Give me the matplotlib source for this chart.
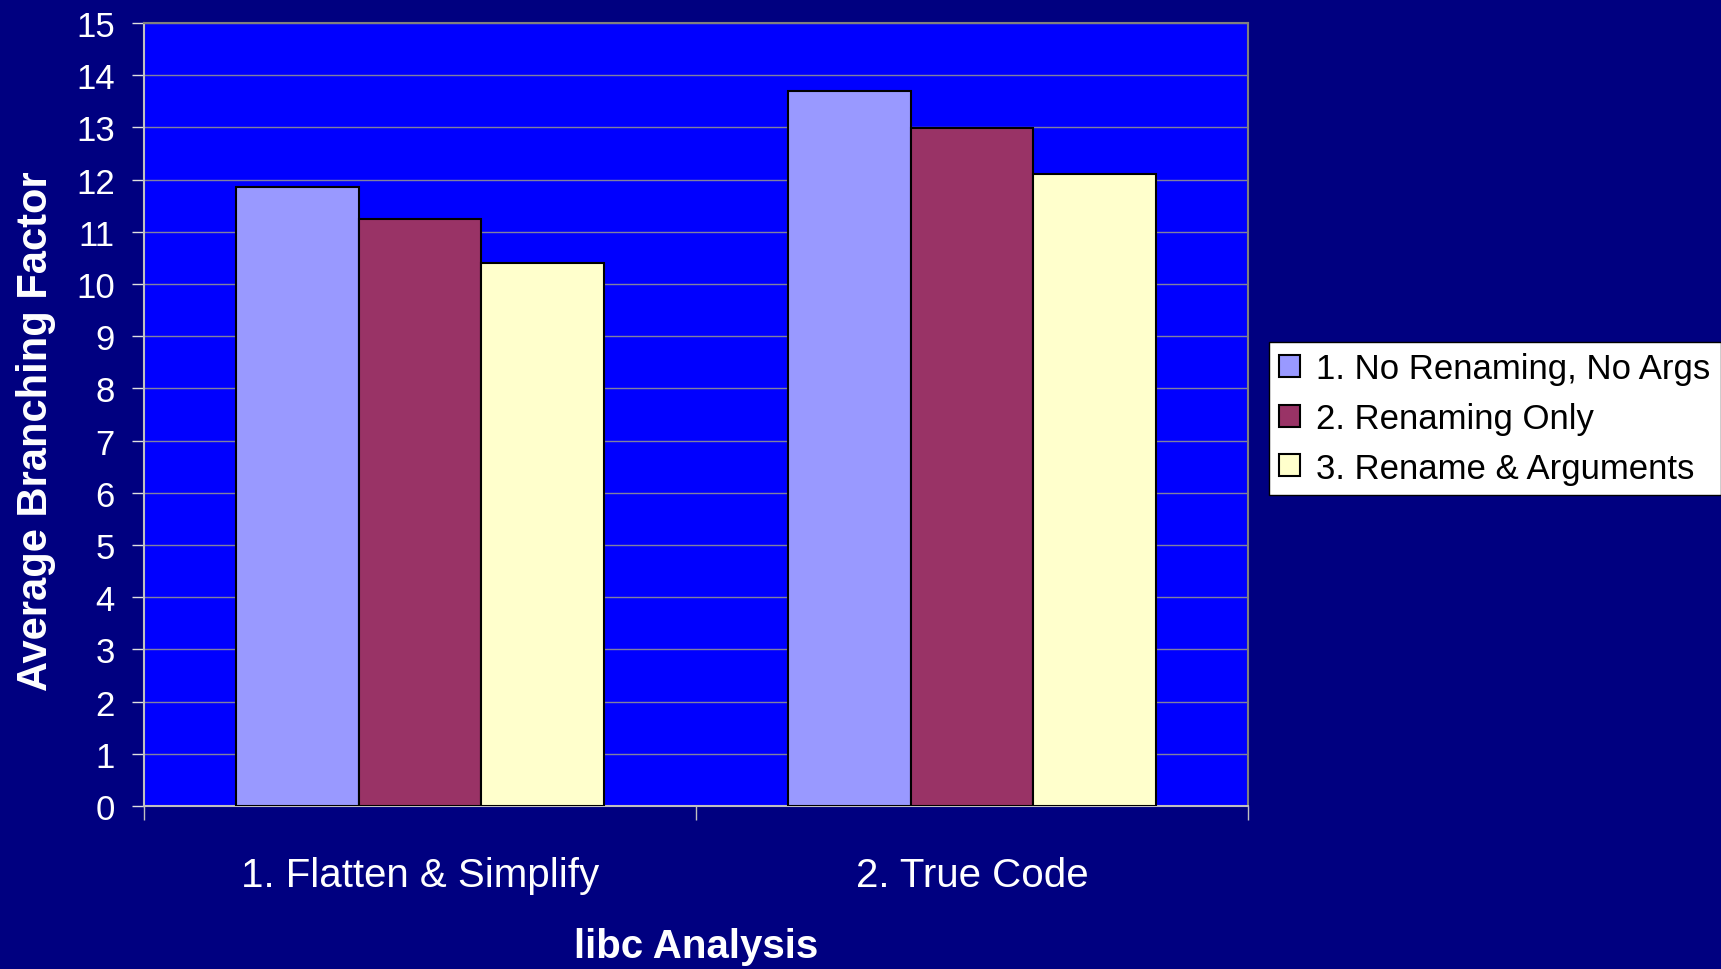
import numpy as np
import matplotlib
matplotlib.use("Agg")
import matplotlib.pyplot as plt

plt.rcParams['font.family'] = ['Liberation Sans', 'DejaVu Sans']

categories = ["1. Flatten & Simplify", "2. True Code"]
series_names = ["1. No Renaming, No Args", "2. Renaming Only", "3. Rename & Arguments"]
no_renaming = [11.85, 13.70]
renaming_only = [11.25, 12.98]
rename_args = [10.40, 12.11]
colors = ["#9999FF", "#993366", "#FFFFCC"]

series = [no_renaming, renaming_only, rename_args]

fig = plt.figure(figsize=(17.21, 9.70), dpi=100)
fig.patch.set_facecolor("#000080")
ax = fig.add_axes([0.0837, 0.168, 0.6415, 0.8073])
ax.set_facecolor("#0000FF")

x = np.arange(len(categories))
w = 1 / 4.5
for i, vals in enumerate(series):
    ax.bar(x + (i - 1) * w, vals, width=w, color=colors[i], edgecolor="black",
           linewidth=1.5, label=series_names[i], zorder=3)

ax.set_xlim(-0.5, len(categories) - 0.5)
ax.set_ylim(0, 15)
ax.set_yticks(range(0, 16))
ax.yaxis.grid(True, color="#8080A0", linewidth=1, zorder=0)
ax.set_axisbelow(True)

# category boundary ticks, labels centred without ticks
ax.set_xticks([-0.5, 0.5, 1.5])
ax.set_xticklabels([])
ax.set_xticks(x, minor=True)
ax.set_xticklabels(categories, minor=True, fontsize=29, color="white")
ax.tick_params(axis="x", which="minor", length=0, pad=36)
ax.tick_params(axis="x", which="major", length=10, color="#C0C0C0", width=1)
ax.tick_params(axis="y", length=9, color="#E0E0E0", width=1, labelsize=25,
               labelcolor="white", pad=12)

for s in ["top", "right"]:
    ax.spines[s].set_color("#808080")
ax.spines["left"].set_color("#C0C0C0")
ax.spines["bottom"].set_color("#C0C0C0")
for s in ax.spines.values():
    s.set_linewidth(1.5)

ax.set_xlabel("libc Analysis", fontsize=29, fontweight="bold", color="white", labelpad=24)
ax.set_ylabel("Average Branching Factor", fontsize=30, fontweight="bold", color="white")
ax.yaxis.set_label_coords(-0.080, 0.48)

leg = fig.legend(loc="upper left", bbox_to_anchor=(0.7374, 0.6465), fontsize=25,
                 frameon=True, fancybox=False, facecolor="white", edgecolor="black",
                 framealpha=1, handlelength=0.6, handleheight=0.6, handletextpad=0.45,
                 labelspacing=0.48, borderpad=0.3, borderaxespad=0)
leg.get_frame().set_linewidth(1)
for h in leg.legend_handles:
    h.set_linewidth(1.5)

fig.savefig("out.png", dpi=100, facecolor=fig.get_facecolor())
